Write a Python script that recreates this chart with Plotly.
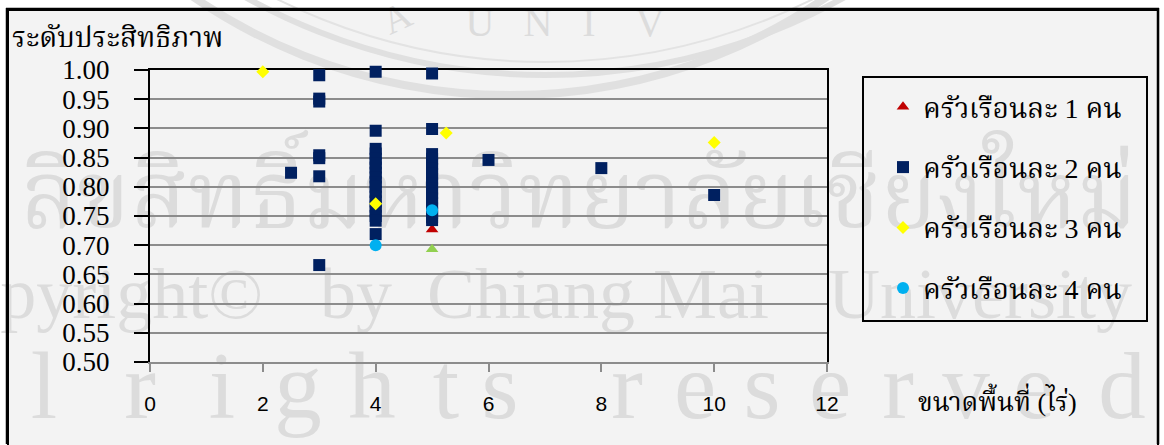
import plotly.graph_objects as go

# ---- data -----------------------------------------------------------------
# households with 1 member
one_x = [5]
one_y = [0.727]

# households with 2 members
two_x = [2.5,
         3, 3, 3, 3, 3, 3, 3,
         4, 4, 4, 4, 4, 4, 4, 4, 4, 4, 4, 4, 4, 4, 4, 4, 4, 4, 4,
         5, 5, 5, 5, 5, 5, 5, 5, 5, 5, 5, 5, 5, 5, 5, 5, 5,
         6, 8, 10]
two_y = [0.824,
         0.991, 0.951, 0.946, 0.854, 0.849, 0.818, 0.666,
         0.997, 0.896, 0.865, 0.857, 0.848, 0.840, 0.833, 0.824, 0.816, 0.808,
         0.800, 0.791, 0.783, 0.775, 0.766, 0.758, 0.750, 0.742, 0.719,
         0.994, 0.899, 0.856, 0.848, 0.839, 0.831, 0.822, 0.814, 0.806, 0.797,
         0.789, 0.780, 0.772, 0.763, 0.755, 0.748, 0.743,
         0.846, 0.832, 0.786]

# households with 3 members
three_x = [2, 4, 5.25, 10]
three_y = [0.997, 0.771, 0.892, 0.876]

# households with 4 members
four_x = [4, 5]
four_y = [0.700, 0.760]

# remaining household
other_x = [5]
other_y = [0.693]

series_names = ["ครัวเรือนละ 1 คน", "ครัวเรือนละ 2 คน",
                "ครัวเรือนละ 3 คน", "ครัวเรือนละ 4 คน"]
y_ticks = [0.50, 0.55, 0.60, 0.65, 0.70, 0.75, 0.80, 0.85, 0.90, 0.95, 1.00]
x_ticks = [0, 2, 4, 6, 8, 10, 12]
y_title = "ระดับประสิทธิภาพ"
x_title = "ขนาดพื้นที่ (ไร่)"

# ---- page geometry ----------------------------------------------------------
W, H = 1164, 445
ML, MR, MT, MB = 150, 337, 70, 83
PW, PH = W - ML - MR, H - MT - MB


def fx(p):
    """pixel column -> paper x"""
    return (p - ML) / PW


def fy(p):
    """pixel row -> paper y"""
    return (H - MB - p) / PH


SERIF = "Liberation Serif, Norasi, Kinnari, Laksaman, Noto Serif Thai, serif"
SANS = "Liberation Sans, Arial, sans-serif"
BG = "#f3f3f3"
WM = "#dcdcdc"
GRID = "#8c8c8c"

fig = go.Figure()

fig.add_trace(go.Scatter(x=one_x, y=one_y, mode="markers", name=series_names[0],
                         legendgroup="g1",
                         marker=dict(symbol="triangle-up", size=11, color="#c00000"),
                         cliponaxis=False))
fig.add_trace(go.Scatter(x=two_x, y=two_y, mode="markers", name=series_names[1],
                         legendgroup="g2",
                         marker=dict(symbol="square", size=12, color="#002060"),
                         cliponaxis=False))
fig.add_trace(go.Scatter(x=three_x, y=three_y, mode="markers", name=series_names[2],
                         legendgroup="g3",
                         marker=dict(symbol="diamond", size=10, color="#ffff00"),
                         cliponaxis=False))
fig.add_trace(go.Scatter(x=four_x, y=four_y, mode="markers", name=series_names[3],
                         legendgroup="g4",
                         marker=dict(symbol="circle", size=12, color="#00b0f0"),
                         cliponaxis=False))
# drawn on the top companion axis, which carries the black upper frame line
fig.add_trace(go.Scatter(x=other_x, y=other_y, mode="markers", name="อื่น ๆ",
                         showlegend=False, xaxis="x2",
                         marker=dict(symbol="triangle-up", size=11, color="#92d050"),
                         cliponaxis=False))

shapes = []


def px_rect(x0, y0, x1, y1, layer="below", **kw):
    d = dict(type="rect", xref="paper", yref="paper", layer=layer,
             x0=fx(x0), x1=fx(x1), y0=fy(y1), y1=fy(y0))
    d.update(kw)
    shapes.append(d)


# white page strips around the grey panel
px_rect(0, 0, 6, 445, fillcolor="white", line=dict(width=0))
px_rect(1160, 0, 1164, 445, fillcolor="white", line=dict(width=0))
px_rect(0, 0, 1164, 8, fillcolor="white", line=dict(width=0))

# background seal arcs
for cx, cy, r, col, wd in [(510, -465, 560, "#e0e0e0", 8),
                           (545, -540, 615, "#e0e0e0", 6),
                           (545, -540, 602, "#e3e3e3", 2)]:
    shapes.append(dict(type="circle", xref="paper", yref="paper", layer="below",
                       x0=fx(cx - r), x1=fx(cx + r), y0=fy(cy + r), y1=fy(cy - r),
                       fillcolor="rgba(0,0,0,0)", line=dict(color=col, width=wd)))


def wm_text(text, x, y, size, xanchor="center", family=SERIF, angle=0):
    shapes.append(dict(type="rect", xref="paper", yref="paper", layer="below",
                       x0=fx(x), x1=fx(x) + 1e-4, y0=fy(y), y1=fy(y) + 1e-4,
                       line=dict(width=0), fillcolor="rgba(0,0,0,0)",
                       label=dict(text=text, textposition="middle center",
                                  xanchor=xanchor, yanchor="middle", padding=0,
                                  textangle=angle,
                                  font=dict(family=family, size=size, color=WM))))


# seal lettering
wm_text("A", 395, 14, 38, angle=-25)
for ch, cx in zip("UNIV", [480, 538, 589, 650]):
    wm_text(ch, cx, 19, 40)

# university name across the middle
wm_text("ลิขสิทธิ์มหาวิทยาลัยเชียงใหม่", 579, 192, 94)

# copyright line
wm_text("Copyright©", 263, 286, 72, xanchor="right")
wm_text("by", 320, 286, 72, xanchor="left")
wm_text("Chiang Mai", 427, 286, 72, xanchor="left")
wm_text("University", 828, 286, 72, xanchor="left")

# spaced lettering along the bottom
for ch, cx in zip("lrightsreserved",
                  [44, 140, 222, 298, 372, 446, 500, 627, 695, 762, 830, 898, 966, 1034, 1122]):
    wm_text(ch, cx, 376, 95)

# outer frame edges
for x0, y0, x1, y1 in [(7, 8, 7, 444), (6, 9, 1159, 9), (1158, 8, 1158, 444)]:
    shapes.append(dict(type="line", xref="paper", yref="paper", layer="above",
                       x0=fx(x0), x1=fx(x1), y0=fy(y0), y1=fy(y1),
                       line=dict(color="black", width=2.5)))

# legend frame
px_rect(863, 77, 1147, 321, layer="above",
        fillcolor="rgba(0,0,0,0)", line=dict(color="black", width=2))

fig.update_layout(
    width=W, height=H,
    margin=dict(l=ML, r=MR, t=MT, b=MB, pad=0, autoexpand=False),
    paper_bgcolor=BG,
    plot_bgcolor="rgba(0,0,0,0)",
    shapes=shapes,
    showlegend=True,
    legend=dict(x=fx(883), y=fy(82), xanchor="left", yanchor="top",
                borderwidth=0, bgcolor="rgba(0,0,0,0)",
                font=dict(family=SERIF, size=28, color="black"),
                traceorder="grouped", tracegroupgap=21),
    annotations=[
        dict(text=y_title, xref="paper", yref="paper", x=fx(10), y=fy(37),
             xanchor="left", yanchor="middle", showarrow=False,
             font=dict(family=SERIF, size=28, color="black")),
        dict(text=x_title, xref="paper", yref="paper", x=fx(916), y=fy(400),
             xanchor="left", yanchor="middle", showarrow=False,
             font=dict(family=SERIF, size=26, color="black")),
        # bordered blank box tracing the outer page frame
        dict(text="\u00a0", xref="paper", yref="paper", x=fx(583), y=fy(9),
             xanchor="center", yanchor="top", showarrow=False,
             width=1148, height=450, borderpad=0,
             bordercolor="black", borderwidth=2, bgcolor="rgba(0,0,0,0)"),
    ],
)

fig.update_layout(
    xaxis=dict(range=[0, 12], tickvals=x_ticks, showgrid=False, zeroline=False,
               showline=True, linecolor=GRID, linewidth=1.5,
               ticks="outside", ticklen=8, tickwidth=1.5, tickcolor=GRID,
               ticklabelstandoff=14, layer="below traces", automargin=False,
               tickfont=dict(family=SANS, size=21, color="black")),
    xaxis2=dict(range=[0, 12], matches="x", overlaying="x", side="top",
                showgrid=False, zeroline=False, showticklabels=False, ticks="",
                showline=True, linecolor="black", linewidth=2, layer="below traces"),
    yaxis=dict(range=[0.5, 1.0], tickvals=y_ticks, tickformat=".2f",
               showgrid=True, gridcolor=GRID, gridwidth=1.5, zeroline=False,
               showline=True, linecolor="black", linewidth=2, mirror=True,
               ticks="outside", ticklen=14, tickwidth=1.5, tickcolor="black",
               ticklabelstandoff=19, layer="below traces", automargin=False,
               tickfont=dict(family=SERIF, size=27, color="black")),
)

fig.write_html("out.html")
